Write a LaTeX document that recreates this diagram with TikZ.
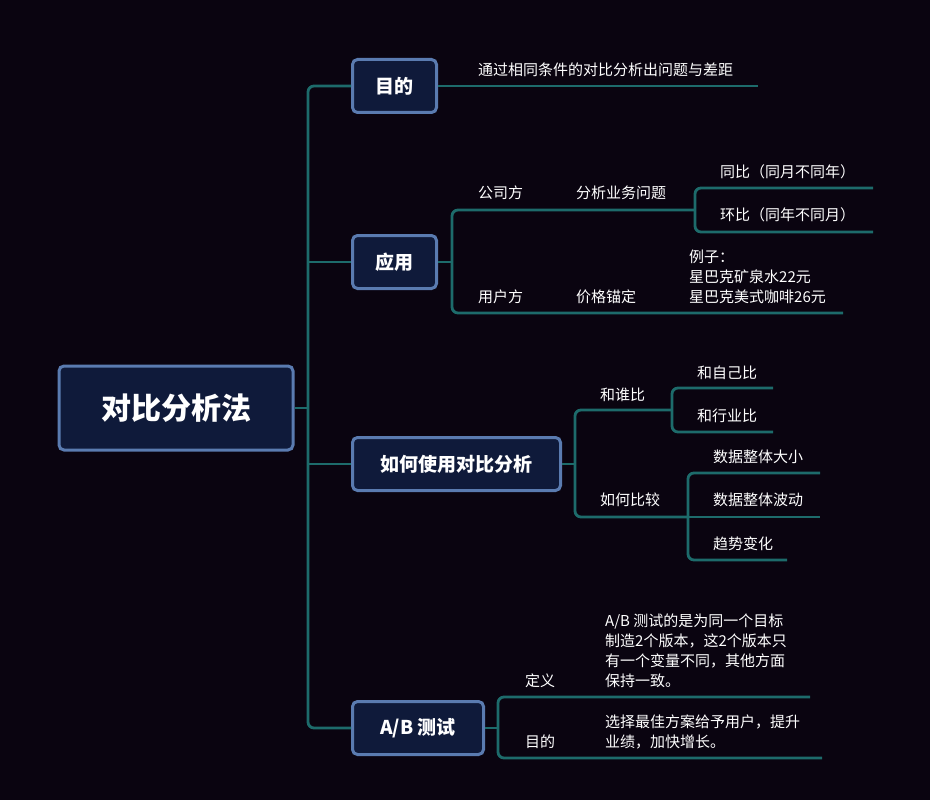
\documentclass[tikz,border=0pt]{standalone}
\usepackage{fontspec}
\setmainfont{Noto Sans CJK SC}
\begin{document}
\begin{tikzpicture}[x=1pt,y=-1pt,
  box/.style={draw=bx,line width=3pt,fill=bf,rounded corners=5pt,text=white,font=\fontsize{19}{22}\selectfont\bfseries,inner sep=0pt},
  ln/.style={draw=tl,line width=2.8pt,rounded corners=6pt},
  lbl/.style={anchor=west,text=white,font=\fontsize{15}{20}\selectfont,inner sep=0pt,align=left}]
\definecolor{bgc}{HTML}{0A0410}
\definecolor{bf}{HTML}{0F1A3A}
\definecolor{bx}{HTML}{5A7BB0}
\definecolor{tl}{HTML}{1D6B6B}
\fill[bgc] (0,0) rectangle (930,800);
\useasboundingbox (0,0) rectangle (930,800);
% boxes
\node[box,minimum width=234pt,minimum height=84pt,font=\fontsize{30}{34}\selectfont\bfseries] (root) at (176,408) {对比分析法};
\node[box,minimum width=84pt,minimum height=53pt] (b1) at (394.5,86) {目的};
\node[box,minimum width=84pt,minimum height=53pt] (b2) at (394.5,262) {应用};
\node[box,minimum width=208pt,minimum height=53pt] (b3) at (456.5,464) {如何使用对比分析};
\node[box,minimum width=131pt,minimum height=53pt] (b4) at (418,728) {A/B 测试};
\coordinate (t) at (308,408);
\coordinate (e1) at (758,86);
\coordinate (e2a) at (695,210); \coordinate (e2b) at (843,313);
\coordinate (e3a) at (672,410); \coordinate (e3b) at (688,517);
\coordinate (e4a) at (810,697); \coordinate (e4b) at (822,758);
\begin{scope}[on background layer/.style={}]
\draw[ln] (root.east) -- (t);
\draw[ln] (b1.west) -- (308,86) -- (308,728) -- (b4.west);
\draw[ln] (308,262) -- (b2.west);
\draw[ln] (308,464) -- (b3.west);
\draw[ln] (b1.east) -- (e1);
% 应用
\draw[ln] (b2.east) -- (452,262);
\draw[ln] (e2a) -- (452,210) -- (452,313) -- (e2b);
\draw[ln] (873,188) -- (695,188) -- (695,232) -- (873,232);
\draw[ln] (e2a) -- (695,210);
% 如何
\draw[ln] (b3.east) -- (575,464);
\draw[ln] (e3a) -- (575,410) -- (575,517) -- (e3b);
\draw[ln] (773,388) -- (672,388) -- (672,432) -- (773,432);
\draw[ln] (820,473) -- (688,473) -- (688,560) -- (787,560);
\draw[ln] (688,517) -- (820,517);
% AB
\draw[ln] (b4.east) -- (498,728);
\draw[ln] (e4a) -- (498,697) -- (498,758) -- (e4b);
\end{scope}
% labels
\node[lbl] (l1) at (478,70) {通过相同条件的对比分析出问题与差距};
\node[lbl] (l2) at (478,193) {公司方};
\node[lbl] (l3) at (576,193) {分析业务问题};
\node[lbl] (l4) at (720,172) {同比（同月不同年）};
\node[lbl] (l5) at (720,215) {环比（同年不同月）};
\node[lbl] (l6) at (478,297) {用户方};
\node[lbl] (l7) at (576,297) {价格锚定};
\node[lbl] (l8) at (689,277) {例子：\\星巴克矿泉水22元\\星巴克美式咖啡26元};
\node[lbl] (l9) at (600,395) {和谁比};
\node[lbl] (l10) at (697,373) {和自己比};
\node[lbl] (l11) at (697,416) {和行业比};
\node[lbl] (l12) at (600,500) {如何比较};
\node[lbl] (l13) at (713,457) {数据整体大小};
\node[lbl] (l14) at (713,500) {数据整体波动};
\node[lbl] (l15) at (713,544) {趋势变化};
\node[lbl] (l16) at (525,681) {定义};
\node[lbl] (l17) at (605,651) {A/B 测试的是为同一个目标\\制造2个版本，这2个版本只\\有一个变量不同，其他方面\\保持一致。};
\node[lbl] (l18) at (525,742) {目的};
\node[lbl] (l19) at (605,732) {选择最佳方案给予用户，提升\\业绩，加快增长。};
\end{tikzpicture}
\end{document}
